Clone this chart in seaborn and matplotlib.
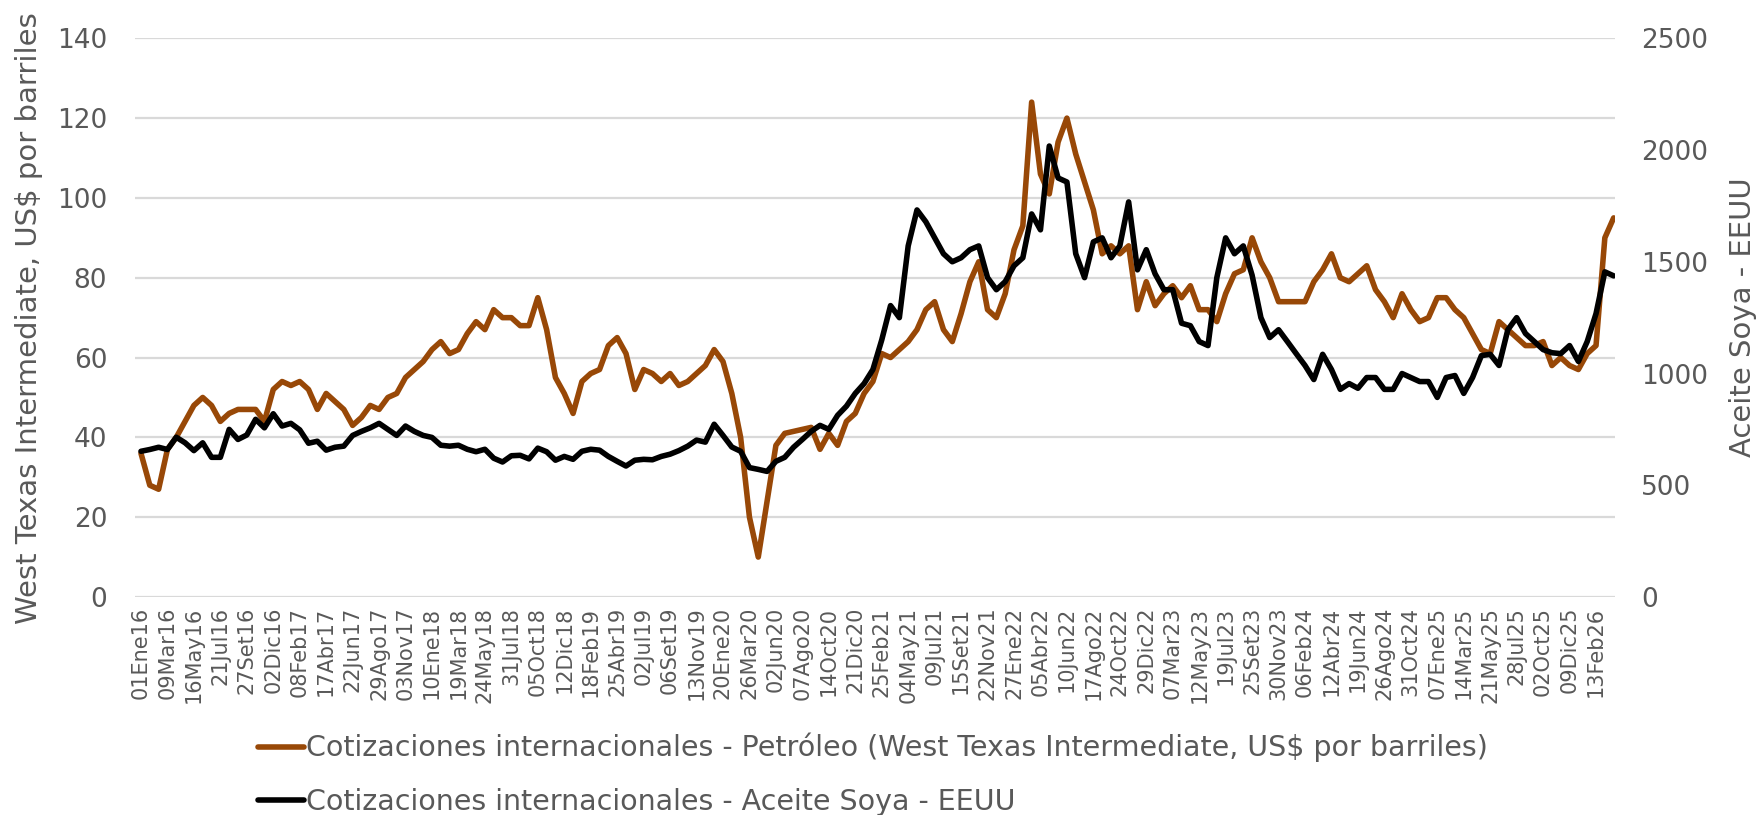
import matplotlib
matplotlib.use('Agg')
import numpy as np
import pandas as pd
import seaborn as sns
from matplotlib import pyplot as plt

# etiquetas del eje x (una cada 48 dias habiles)
etiquetas = [
    "01Ene16", "09Mar16", "16May16", "21Jul16", "27Set16", "02Dic16", "08Feb17",
    "17Abr17", "22Jun17", "29Ago17", "03Nov17", "10Ene18", "19Mar18", "24May18",
    "31Jul18", "05Oct18", "12Dic18", "18Feb19", "25Abr19", "02Jul19", "06Set19",
    "13Nov19", "20Ene20", "26Mar20", "02Jun20", "07Ago20", "14Oct20", "21Dic20",
    "25Feb21", "04May21", "09Jul21", "15Set21", "22Nov21", "27Ene22", "05Abr22",
    "10Jun22", "17Ago22", "24Oct22", "29Dic22", "07Mar23", "12May23", "19Jul23",
    "25Set23", "30Nov23", "06Feb24", "12Abr24", "19Jun24", "26Ago24", "31Oct24",
    "07Ene25", "14Mar25", "21May25", "28Jul25", "02Oct25", "09Dic25", "13Feb26",
]

# WTI, US$ por barril (una observacion cada 16 dias habiles)
wti = [
    36, 28, 27, 37, 40, 44, 48, 50, 48, 44,
    46, 47, 47, 47, 44, 52, 54, 53, 54, 52,
    47, 51, 49, 47, 43, 45, 48, 47, 50, 51,
    55, 57, 59, 62, 64, 61, 62, 66, 69, 67,
    72, 70, 70, 68, 68, 75, 67, 55, 51, 46,
    54, 56, 57, 63, 65, 61, 52, 57, 56, 54,
    56, 53, 54, 56, 58, 62, 59, 51, 40, 20,
    10, 24, 38, 41, 41.5, 42, 42.5, 37, 41, 38,
    44, 46, 51, 54, 61, 60, 62, 64, 67, 72,
    74, 67, 64, 71, 79, 84, 72, 70, 76, 87,
    93, 124, 106, 101, 114, 120, 111, 104, 97, 86,
    88, 86, 88, 72, 79, 73, 76, 78, 75, 78,
    72, 72, 69, 76, 81, 82, 90, 84, 80, 74,
    74, 74, 74, 79, 82, 86, 80, 79, 81, 83,
    77, 74, 70, 76, 72, 69, 70, 75, 75, 72,
    70, 66, 62, 61, 69, 67, 65, 63, 63, 64,
    58, 60, 58, 57, 61, 63, 90, 95,
]

# Aceite de soya EEUU
soya = [
    652, 660, 670, 660, 715, 690, 655, 690, 625, 625,
    750, 705, 725, 795, 757, 820, 765, 777, 748, 688,
    697, 657, 670, 675, 723, 741, 757, 777, 750, 723,
    765, 741, 723, 714, 679, 675, 679, 661, 650, 661,
    621, 604, 632, 634, 618, 666, 650, 612, 629, 616,
    652, 661, 657, 629, 607, 586, 612, 616, 614, 629,
    639, 655, 675, 702, 693, 773, 723, 671, 652, 579,
    571, 562, 607, 625, 670, 705, 741, 768, 750, 813,
    854, 911, 955, 1018, 1150, 1304, 1250, 1571, 1732, 1679,
    1607, 1536, 1500, 1518, 1554, 1571, 1429, 1375, 1411, 1482,
    1518, 1714, 1643, 2018, 1875, 1857, 1536, 1429, 1589, 1607,
    1518, 1571, 1768, 1464, 1554, 1446, 1375, 1375, 1225, 1214,
    1143, 1125, 1429, 1607, 1536, 1571, 1440, 1250, 1161, 1196,
    1143, 1089, 1036, 973, 1086, 1018, 929, 955, 934, 982,
    982, 929, 929, 1000, 982, 964, 964, 893, 982, 991,
    911, 982, 1080, 1086, 1036, 1196, 1250, 1179, 1143, 1107,
    1093, 1089, 1125, 1054, 1143, 1268, 1455, 1437,
]

lab_wti = "Cotizaciones internacionales - Petróleo (West Texas Intermediate, US$ por barriles)"
lab_soya = "Cotizaciones internacionales - Aceite Soya - EEUU"

paso = 16
df = pd.DataFrame({"dia": np.arange(len(wti)) * paso, "wti": wti, "soya": soya})

sns.set_style("white")
plt.rcParams['font.family'] = ['DejaVu Sans']
gris = "#595959"

fig, ax = plt.subplots(figsize=(17.59, 8.15), dpi=100)
fig.subplots_adjust(left=0.0767, right=0.918, top=0.953, bottom=0.2675)
ax2 = ax.twinx()

sns.lineplot(data=df, x="dia", y="wti", ax=ax, color="#984807", lw=4.0, legend=False)
sns.lineplot(data=df, x="dia", y="soya", ax=ax2, color="black", lw=4.0, legend=False)

ax.set_ylim(0, 140)
ax.set_yticks(range(0, 141, 20))
ax.yaxis.grid(True, color="#d9d9d9", lw=1.6)
ax.xaxis.grid(False)
ax.set_axisbelow(True)
ax2.set_ylim(0, 2500)
ax2.set_yticks(range(0, 2501, 500))
ax2.grid(False)

ax.set_xlim(-11, 2674)
ax.set_xticks(np.arange(len(etiquetas)) * 48)
ax.set_xticklabels(etiquetas, rotation=90)

ax.tick_params(axis="y", length=0, pad=20, labelsize=19, labelcolor=gris)
ax.tick_params(axis="x", length=0, pad=7, labelsize=15, labelcolor=gris)
ax2.tick_params(axis="y", length=0, pad=19, labelsize=19, labelcolor=gris)

for a in (ax, ax2):
    for s in a.spines.values():
        s.set_visible(False)

ax.set_xlabel("")
ax.set_ylabel("West Texas Intermediate, US$ por barriles", fontsize=21, color=gris)
ax.yaxis.set_label_coords(-0.062, 0.5)
ax2.set_ylabel("Aceite Soya - EEUU", fontsize=21, color=gris)
ax2.yaxis.set_label_coords(1.077, 0.5)

fig.legend([ax.lines[0], ax2.lines[0]], [lab_wti, lab_soya],
           loc="upper left", bbox_to_anchor=(258 / 1759, 1 - 733 / 815),
           frameon=False, fontsize=20.5, handlelength=1.6, handletextpad=0.1,
           labelspacing=0.9, borderpad=0, borderaxespad=0, labelcolor=gris)

plt.savefig("out.png", dpi=100)
